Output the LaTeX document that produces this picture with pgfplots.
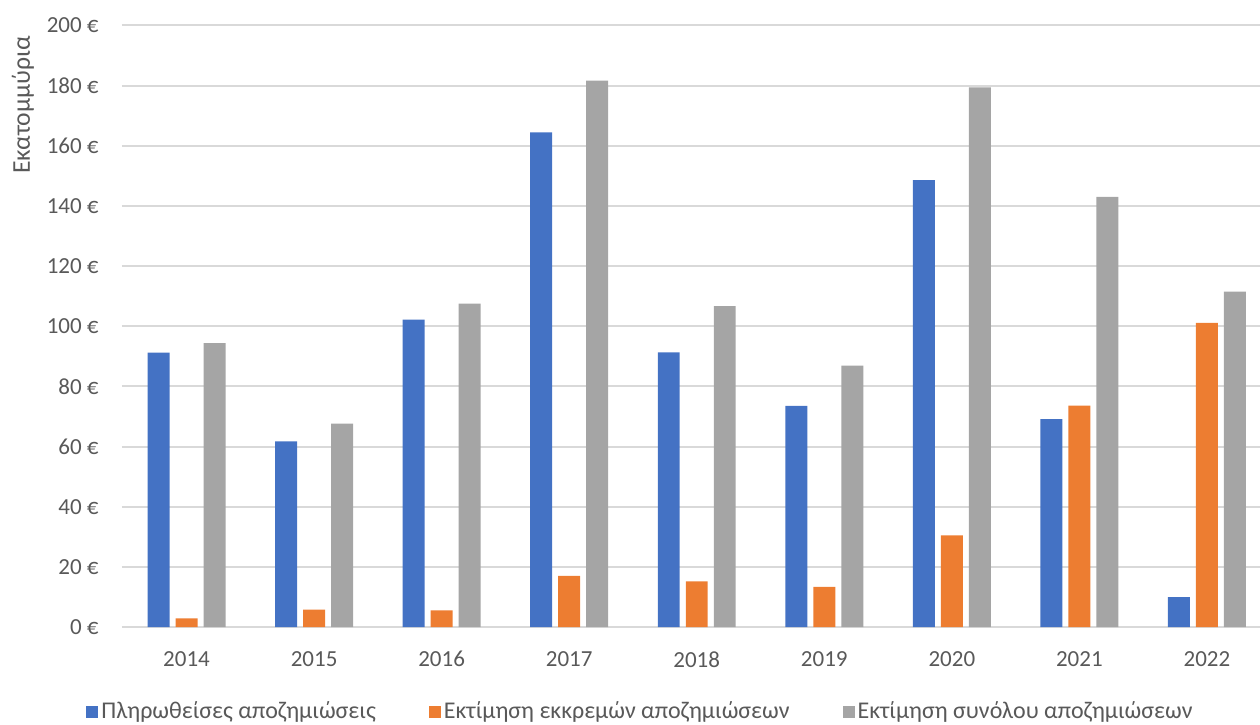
\documentclass[border=0pt]{standalone}
\usepackage{fontspec}
\setmainfont{Carlito}
\usepackage{pgfplots}
\pgfplotsset{compat=1.18}
\definecolor{cblue}{HTML}{4472C4}
\definecolor{corange}{HTML}{ED7D31}
\definecolor{cgray}{HTML}{A5A5A5}
\definecolor{gridgray}{HTML}{D9D9D9}
\definecolor{txtgray}{HTML}{595959}
\pgfplotsset{sqlegend/.style={legend image code/.code={\fill[##1] (0pt,-3pt) rectangle (6pt,3pt);}}}
\begin{document}
\begin{tikzpicture}
\path[use as bounding box] (0,0) rectangle (630pt,362pt);
\begin{axis}[
  at={(61pt,48.5pt)}, anchor=south west,
  scale only axis, width=569pt, height=300.8pt,
  xmin=-0.506, xmax=8.416, ymin=0, ymax=200,
  ybar, bar width=0.172,
  clip=false,
  axis line style={draw=none},
  major tick length=0pt,
  ymajorgrids, grid style={color=gridgray, line width=1pt},
  xtick={0,1,2,3,4,5,6,7,8},
  xticklabels={2014,2015,2016,2017,2018,2019,2020,2021,2022},
  ytick={0,20,40,60,80,100,120,140,160,180,200},
  yticklabels={0 €,20 €,40 €,60 €,80 €,100 €,120 €,140 €,160 €,180 €,200 €},
  tick label style={font=\fontsize{11.5}{13}\selectfont, text=txtgray, inner sep=0pt},
  xticklabel style={anchor=north, yshift=-12pt},
  yticklabel style={anchor=east, xshift=-11.5pt},
  ylabel={Εκατομμύρια},
  every axis y label/.style={at={(rel axis cs:-0.087,0.8677)}, rotate=90, anchor=center, font=\fontsize{12.8}{14}\selectfont, text=txtgray},
  legend columns=3,
  legend style={draw=none, at={(rel axis cs:0.456,-0.1413)}, anchor=center,
    font=\fontsize{12}{14}\selectfont, text=txtgray,
    /tikz/every even column/.append style={column sep=25pt},
    nodes={inner sep=1.5pt}},
]
\addplot[fill=cblue, draw=none, bar shift=-0.2195, sqlegend] coordinates {
(0,91.2) (1,61.7) (2,102.2) (3,164.4) (4,91.3) (5,73.5) (6,148.6) (7,69.1) (8,9.9)};
\addplot[fill=corange, draw=none, bar shift=0, sqlegend] coordinates {
(0,2.9) (1,5.8) (2,5.5) (3,17.0) (4,15.2) (5,13.3) (6,30.5) (7,73.6) (8,101.1)};
\addplot[fill=cgray, draw=none, bar shift=0.2195, sqlegend] coordinates {
(0,94.4) (1,67.6) (2,107.5) (3,181.6) (4,106.7) (5,86.9) (6,179.4) (7,143.0) (8,111.5)};
\legend{Πληρωθείσες αποζημιώσεις, Εκτίμηση εκκρεμών αποζημιώσεων, Εκτίμηση συνόλου αποζημιώσεων}
\end{axis}
\end{tikzpicture}
\end{document}
